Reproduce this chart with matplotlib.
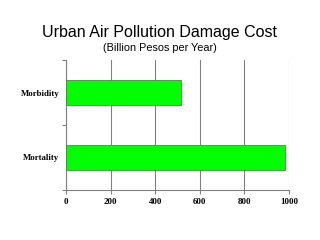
import matplotlib
matplotlib.use("Agg")
from matplotlib import pyplot as plt

# data
categories = ["Mortality", "Morbidity"]
values = [982, 516]
xticks = [0, 200, 400, 600, 800, 1000]

fig = plt.figure(figsize=(3.2, 2.4), dpi=100)
ax = fig.add_axes([66/320, 1 - 190/240, (289-66)/320, 130/240])

ax.barh(range(len(categories)), values, height=0.38, color="#00ff00",
        edgecolor="#4a8a4a", linewidth=0.6, zorder=3)

ax.set_xlim(0, 1000)
ax.set_ylim(-0.5, 1.5)
ax.set_xticks(xticks)
ax.set_xticklabels([str(v) for v in xticks], fontname="Liberation Serif",
                   fontweight="bold", fontsize=6.5)
ax.set_yticks([-0.5, 0.5, 1.5])
ax.set_yticklabels([])
ax.set_yticks(range(len(categories)), minor=True)
ax.set_yticklabels(categories, minor=True, fontname="Liberation Serif",
                   fontweight="bold", fontsize=6.3)
ax.tick_params(axis="y", which="minor", length=0, pad=5)
ax.tick_params(axis="y", which="major", length=3, color="#808080")
ax.tick_params(axis="x", length=3, color="#808080", pad=3)

ax.grid(axis="x", color="#808080", linewidth=0.8, zorder=0)
for s in ["top", "right"]:
    ax.spines[s].set_visible(False)
for s in ["left", "bottom"]:
    ax.spines[s].set_color("#808080")
    ax.spines[s].set_linewidth(0.8)

fig.text(0.5, 1 - 33/240, "Urban Air Pollution Damage Cost", ha="center",
         va="center", fontname="Liberation Sans", fontsize=11.5)
fig.text(0.5, 1 - 48/240, "(Billion Pesos per Year)", ha="center",
         va="center", fontname="Liberation Sans", fontsize=7.8)

fig.savefig("out.png", dpi=100)
